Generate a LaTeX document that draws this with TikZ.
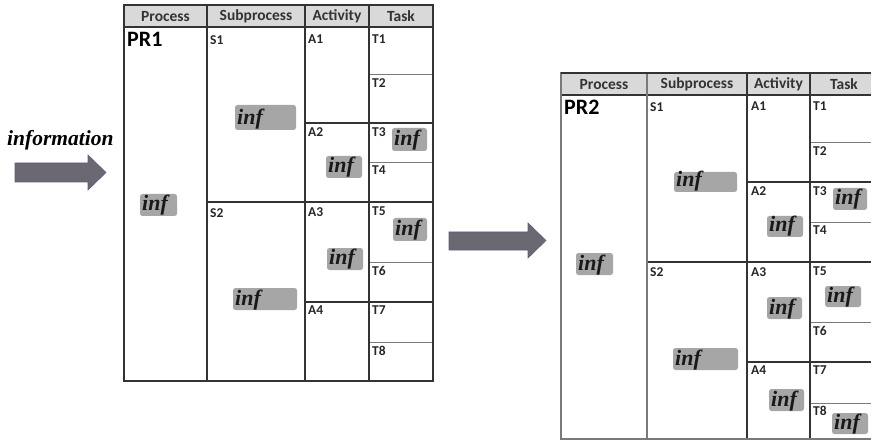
\documentclass[tikz,border=0pt]{standalone}
\usepackage{fontspec}
\setmainfont{Carlito}
\newfontfamily\inffont{Liberation Serif}
\definecolor{hdrgray}{HTML}{D9D9D9}
\definecolor{infgray}{HTML}{A6A6A6}
\definecolor{arrowfill}{HTML}{6C6872}
\definecolor{arrowedge}{HTML}{5A5F80}
\definecolor{gridline}{HTML}{333333}
\definecolor{subline}{HTML}{7A7A7A}
\tikzset{
  frame/.style={draw=gridline, line width=1.2pt},
  subrow/.style={draw=subline, line width=0.8pt},
  hdrtext/.style={font=\fontsize{15.5}{17}\selectfont\bfseries, text=black!80, inner sep=0pt},
  celltext/.style={font=\fontsize{13.5}{15}\selectfont\bfseries, text=black!85, anchor=north west, inner sep=0pt},
  proctext/.style={font=\fontsize{22}{24}\selectfont\bfseries, anchor=north west, inner sep=0pt},
  inftext/.style={font=\inffont\fontsize{22}{24}\selectfont\bfseries\itshape, text=black!90, anchor=base west, inner sep=0pt},
  infbox/.style={fill=infgray, rounded corners=2.5pt},
  bigarrow/.style={fill=arrowfill, draw=arrowedge, line width=0.6pt, line join=miter},
}
% grey "inf" tag: name, x1, y1, x2, y2
\newcommand\inftag[5]{%
  \fill[infbox] (#2,#3) rectangle (#4,#5);
  \node[inftext] (#1) at (#2+2,#5-5) {inf};
}
\begin{document}
\begin{tikzpicture}[x=1pt,y=-1pt]
\useasboundingbox (0,0) rectangle (871,441);
\clip (0,0) rectangle (871,441);

% ---------- incoming information ----------
\node[font=\inffont\fontsize{21.5}{23}\selectfont\bfseries\itshape, anchor=base west, inner sep=0pt] (info) at (7,146) {information};
\filldraw[bigarrow] (15,163) -- (88,163) -- (88,155) -- (106,172.5) -- (88,190) -- (88,182) -- (15,182) -- cycle;

% ---------- first table (PR1) ----------
\fill[hdrgray] (124,5) rectangle (433,27);
\node[hdrtext] (h1p) at (165.5,16.5) {Process};
\node[hdrtext] (h1s) at (256,16.5) {Subprocess};
\node[hdrtext] (h1a) at (337,16.5) {Activity};
\node[hdrtext] (h1t) at (401,16.5) {Task};
% task sub-rows
\draw[subrow] (369,74) -- (433,74);
\draw[subrow] (369,162) -- (433,162);
\draw[subrow] (369,262) -- (433,262);
\draw[subrow] (369,342) -- (433,342);
% group boundaries
\draw[frame] (207,202) -- (433,202);
\draw[frame] (305,123) -- (433,123);
\draw[frame] (305,302) -- (433,302);
\draw[frame] (124,27) -- (433,27);
\draw[frame] (207,5) -- (207,381);
\draw[frame] (305,5) -- (305,381);
\draw[frame] (369,5) -- (369,381);
\draw[frame] (124,5) rectangle (433,381);
% labels
\node[proctext] (pr1) at (127,32) {PR1};
\node[celltext] (s1a) at (210,35) {S1};
\node[celltext] (s2a) at (210,208) {S2};
\node[celltext] (a1a) at (308,35) {A1};
\node[celltext] (a2a) at (308,127) {A2};
\node[celltext] (a3a) at (308,207) {A3};
\node[celltext] (a4a) at (308,306) {A4};
\node[celltext] (t1a) at (372,35) {T1};
\node[celltext] (t2a) at (372,78) {T2};
\node[celltext] (t3a) at (372,127) {T3};
\node[celltext] (t4a) at (372,166) {T4};
\node[celltext] (t5a) at (372,207) {T5};
\node[celltext] (t6a) at (372,266) {T6};
\node[celltext] (t7a) at (372,306) {T7};
\node[celltext] (t8a) at (372,346) {T8};
% inf tags
\inftag{ipr1}{140}{194}{177}{216}
\inftag{is1a}{235}{105}{296}{130}
\inftag{is2a}{233}{288}{297}{310}
\inftag{ia2a}{326}{156}{362}{178}
\inftag{ia3a}{327}{248}{363}{270}
\inftag{it3a}{392}{128}{427}{151}
\inftag{it5a}{393}{218}{427}{241}

% ---------- transition arrow ----------
\filldraw[bigarrow] (449,232) -- (528,232) -- (528,223) -- (546,240.5) -- (528,258) -- (528,250) -- (449,250) -- cycle;

% ---------- second table (PR2) ----------
\fill[hdrgray] (561,73) rectangle (880,95);
\node[hdrtext] (h2p) at (604,84.5) {Process};
\node[hdrtext] (h2s) at (697,84.5) {Subprocess};
\node[hdrtext] (h2a) at (778.5,84.5) {Activity};
\node[hdrtext] (h2t) at (844,84.5) {Task};
% task sub-rows
\draw[subrow] (810,142) -- (880,142);
\draw[subrow] (810,222) -- (880,222);
\draw[subrow] (810,322) -- (880,322);
\draw[subrow] (810,403) -- (880,403);
% group boundaries
\draw[frame] (647,262) -- (880,262);
\draw[frame] (747,182) -- (880,182);
\draw[frame] (747,362) -- (880,362);
\draw[frame] (561,95) -- (880,95);
\draw[frame, draw=subline] (647,73) -- (647,439);
\draw[frame] (747,73) -- (747,439);
\draw[frame] (810,73) -- (810,439);
\draw[frame, draw=subline] (561,73) rectangle (880,439);
\draw[frame] (561,73) -- (880,73);
% labels
\node[proctext] (pr2) at (564,100) {PR2};
\node[celltext] (s1b) at (650,102) {S1};
\node[celltext] (s2b) at (650,267) {S2};
\node[celltext] (a1b) at (751,102) {A1};
\node[celltext] (a2b) at (751,186) {A2};
\node[celltext] (a3b) at (751,267) {A3};
\node[celltext] (a4b) at (751,366) {A4};
\node[celltext] (t1b) at (813,102) {T1};
\node[celltext] (t2b) at (813,146) {T2};
\node[celltext] (t3b) at (813,186) {T3};
\node[celltext] (t4b) at (813,226) {T4};
\node[celltext] (t5b) at (813,267) {T5};
\node[celltext] (t6b) at (813,326) {T6};
\node[celltext] (t7b) at (813,366) {T7};
\node[celltext] (t8b) at (813,406) {T8};
% inf tags
\inftag{ipr2}{576}{253}{613}{275}
\inftag{is1b}{674}{172}{737}{192}
\inftag{is2b}{673}{348}{738}{370}
\inftag{ia2b}{767}{216}{803}{237}
\inftag{ia3b}{767}{297}{802}{319}
\inftag{ia4b}{769}{389}{804}{411}
\inftag{it3b}{833}{188}{867}{210}
\inftag{it5b}{825}{286}{861}{307}
\inftag{it8b}{832}{413}{868}{434}
\end{tikzpicture}
\end{document}
